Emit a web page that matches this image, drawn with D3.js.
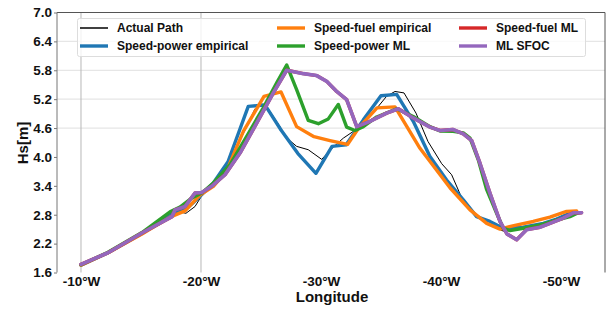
<!DOCTYPE html>
<html>
<head>
<meta charset="utf-8">
<script src="https://cdn.jsdelivr.net/npm/d3@7"></script>
<style>
  body { margin: 0; background: #fff; }
  svg { display: block; font-family: "Liberation Sans", Arial, sans-serif; font-weight: bold; }
</style>
</head>
<body>
<svg id="chart" width="609" height="313"></svg>
<script>
// [degrees west, Hs in m]
const actualPath = [
  [10.0, 1.75], [12.25, 2.01], [15.08, 2.40], [17.58, 2.89], [18.75, 2.83], [19.5, 2.97],
  [20.0, 3.17], [21.03, 3.46], [22.28, 3.87], [23.81, 4.63], [24.5, 5.0], [25.08, 5.10],
  [25.5, 5.04], [26.58, 4.63], [27.17, 4.39], [27.97, 4.22], [28.94, 4.15], [30.06, 3.95],
  [30.92, 4.18], [31.86, 4.39], [32.69, 4.53], [33.92, 4.79], [35.47, 5.26], [36.17, 5.36],
  [36.92, 5.33], [37.92, 4.91], [38.92, 4.32], [40.06, 3.86], [40.89, 3.63], [41.92, 3.04],
  [42.83, 2.78], [44.08, 2.59], [45.19, 2.46], [46.86, 2.55], [48.53, 2.62], [49.5, 2.71],
  [50.5, 2.82]
];
const speedPowerEmp = [
  [10.0, 1.75], [12.25, 2.01], [15.08, 2.41], [17.42, 2.80], [18.67, 2.90], [19.92, 3.18],
  [21.03, 3.46], [22.25, 3.90], [23.94, 5.05], [25.33, 5.08], [26.67, 4.56], [28.08, 4.07],
  [29.58, 3.66], [30.92, 4.22], [32.08, 4.25], [33.53, 4.77], [35.0, 5.27], [36.31, 5.30],
  [37.69, 4.74], [39.08, 4.01], [40.47, 3.52], [41.86, 3.11], [42.97, 2.76], [44.08, 2.66],
  [45.19, 2.52], [46.86, 2.54], [48.53, 2.62], [49.64, 2.71], [50.75, 2.83], [51.58, 2.84]
];
const speedFuelEmp = [
  [10.0, 1.75], [12.25, 2.01], [15.08, 2.40], [17.42, 2.75], [18.67, 2.88], [19.92, 3.21],
  [21.03, 3.39], [22.14, 3.71], [23.53, 4.53], [25.25, 5.26], [26.67, 5.35], [27.97, 4.63],
  [29.42, 4.42], [30.75, 4.34], [32.21, 4.26], [33.17, 4.61], [34.67, 5.02], [36.17, 5.04],
  [38.25, 4.18], [40.75, 3.36], [42.42, 2.90], [43.81, 2.62], [44.92, 2.50], [46.17, 2.58],
  [47.69, 2.66], [49.08, 2.75], [50.47, 2.87], [51.31, 2.88]
];
const speedPowerML = [
  [10.0, 1.76], [12.25, 2.02], [15.08, 2.43], [17.42, 2.86], [18.25, 2.96], [19.25, 3.15],
  [20.06, 3.25], [21.03, 3.46], [22.42, 3.84], [23.81, 4.43], [25.19, 5.02], [26.31, 5.54],
  [27.14, 5.91], [27.97, 5.40], [28.94, 4.76], [29.78, 4.69], [30.61, 4.79], [31.44, 5.09],
  [32.14, 4.62], [32.83, 4.55], [33.53, 4.63], [34.64, 4.83], [36.31, 5.0], [37.69, 4.84],
  [39.08, 4.63], [39.92, 4.54], [41.0, 4.53], [41.86, 4.50], [42.42, 4.39], [43.11, 3.94],
  [43.81, 3.32], [44.64, 2.83], [45.19, 2.52], [45.75, 2.47], [46.86, 2.52], [48.25, 2.59],
  [49.64, 2.69], [50.75, 2.76], [51.44, 2.84]
];
const speedFuelML = [
  [10.0, 1.77], [12.25, 2.01], [15.08, 2.42], [17.58, 2.76], [17.83, 2.90], [18.67, 2.97],
  [19.5, 3.25], [20.06, 3.26], [20.89, 3.39], [22.0, 3.63], [23.25, 4.08], [24.64, 4.70],
  [26.03, 5.33], [27.14, 5.80], [28.53, 5.73], [29.64, 5.69], [30.48, 5.57], [31.31, 5.36],
  [32.14, 5.19], [32.98, 4.63], [34.08, 4.74], [35.47, 4.91], [36.44, 5.0], [37.69, 4.81],
  [39.08, 4.62], [39.92, 4.55], [41.0, 4.57], [41.86, 4.48], [42.56, 4.34], [43.25, 3.87],
  [44.08, 3.25], [44.92, 2.66], [45.5, 2.40], [46.31, 2.28], [47.14, 2.49], [48.25, 2.54],
  [49.08, 2.62], [50.19, 2.73], [51.03, 2.84], [51.72, 2.84]
];
const mlSfoc = [
  [10.0, 1.77], [12.25, 2.01], [15.08, 2.42], [17.58, 2.76], [17.83, 2.90], [18.67, 2.97],
  [19.5, 3.25], [20.06, 3.26], [20.89, 3.39], [22.0, 3.63], [23.25, 4.08], [24.64, 4.70],
  [26.03, 5.33], [27.14, 5.80], [28.53, 5.73], [29.64, 5.69], [30.48, 5.57], [31.31, 5.36],
  [32.14, 5.19], [32.98, 4.63], [34.08, 4.74], [35.47, 4.91], [36.44, 5.0], [37.69, 4.81],
  [39.08, 4.62], [39.92, 4.55], [41.0, 4.57], [41.86, 4.48], [42.56, 4.34], [43.25, 3.87],
  [44.08, 3.25], [44.92, 2.66], [45.5, 2.40], [46.31, 2.28], [47.14, 2.49], [48.25, 2.54],
  [49.08, 2.62], [50.19, 2.73], [51.03, 2.84], [51.72, 2.84]
];

const seriesNames = ["Actual Path", "Speed-power empirical", "Speed-fuel empirical",
                     "Speed-power ML", "Speed-fuel ML", "ML SFOC"];
const seriesData = [actualPath, speedPowerEmp, speedFuelEmp, speedPowerML, speedFuelML, mlSfoc];
const seriesColors = ["#000000", "#1f77b4", "#ff7f0e", "#2ca02c", "#d62728", "#9467bd"];
const seriesWidths = [1, 3.4, 3.4, 3.4, 3.4, 3.6];

const xTicks = [10, 20, 30, 40, 50];
const yTicks = [1.6, 2.2, 2.8, 3.4, 4.0, 4.6, 5.2, 5.8, 6.4, 7.0];
const yGridTicks = [4.6, 5.2, 5.8, 6.4];
const xGridTicks = [10, 20];

const svg = d3.select("#chart");
const plotL = 57, plotR = 605, plotT = 12.5, plotB = 272.5;

const x = d3.scaleLinear().domain([8, 53.67]).range([plotL, plotR]);
const y = d3.scaleLinear().domain([1.6, 7.0]).range([plotB, plotT]);

// grid
svg.append("g").selectAll("line").data(yGridTicks).enter().append("line")
    .attr("x1", plotL).attr("x2", plotR)
    .attr("y1", d => y(d)).attr("y2", d => y(d))
    .attr("stroke", "#e6e6e6").attr("stroke-width", 1.2);
svg.append("g").selectAll("line").data(xGridTicks).enter().append("line")
    .attr("x1", d => x(d)).attr("x2", d => x(d))
    .attr("y1", plotT).attr("y2", plotB)
    .attr("stroke", "#b8b8b8").attr("stroke-width", 1);

// spines
svg.append("line").attr("x1", plotL).attr("x2", plotR).attr("y1", plotT).attr("y2", plotT)
    .attr("stroke", "#555").attr("stroke-width", 1);
svg.append("line").attr("x1", plotL).attr("x2", plotL).attr("y1", plotT).attr("y2", plotB)
    .attr("stroke", "#777").attr("stroke-width", 1);
svg.append("line").attr("x1", plotR).attr("x2", plotR).attr("y1", plotT).attr("y2", plotB)
    .attr("stroke", "#555").attr("stroke-width", 1);

// axes
const yAxis = d3.axisLeft(y).tickValues(yTicks).tickFormat(d3.format(".1f")).tickSize(3).tickPadding(2);
const gy = svg.append("g").attr("transform", `translate(${plotL},0)`).call(yAxis);
gy.select(".domain").remove();
gy.selectAll(".tick line").attr("stroke", "#777");
gy.selectAll("text").attr("font-size", 13.5).attr("fill", "#111").attr("font-weight", "bold");

const xAxis = d3.axisBottom(x).tickValues(xTicks).tickFormat(d => `-${d}°W`).tickSize(0).tickPadding(4);
const gx = svg.append("g").attr("transform", `translate(0,${plotB})`).call(xAxis);
gx.select(".domain").remove();
gx.selectAll("text").attr("font-size", 13.5).attr("fill", "#111").attr("font-weight", "bold");

// labels
svg.append("text").attr("x", 332).attr("y", 302).attr("text-anchor", "middle")
    .attr("font-size", 15).attr("fill", "#111").text("Longitude");
svg.append("text").attr("transform", "translate(28,143) rotate(-90)").attr("text-anchor", "middle")
    .attr("font-size", 15).attr("fill", "#111").text("Hs[m]");

// lines
const line = d3.line().x(d => x(d[0])).y(d => y(d[1]));
svg.append("g").selectAll("path").data(seriesData).enter().append("path")
    .attr("d", line)
    .attr("fill", "none")
    .attr("stroke", (d, i) => seriesColors[i])
    .attr("stroke-width", (d, i) => seriesWidths[i])
    .attr("stroke-linejoin", "round")
    .attr("stroke-linecap", "round");

// legend
const legend = svg.append("g");
legend.append("rect").attr("x", 77.5).attr("y", 18.5).attr("width", 508).attr("height", 38).attr("rx", 2)
    .attr("fill", "#fff").attr("fill-opacity", 0.8).attr("stroke", "#ddd");
const colX = [80, 277, 459];
const rowY = [28, 46];
seriesNames.forEach((name, i) => {
    const cx = colX[Math.floor(i / 2)], cy = rowY[i % 2];
    legend.append("line").attr("x1", cx).attr("x2", cx + 28).attr("y1", cy).attr("y2", cy)
        .attr("stroke", seriesColors[i]).attr("stroke-width", i === 0 ? 1.5 : 3.4);
    legend.append("text").attr("x", cx + 37).attr("y", cy).attr("dy", "0.35em")
        .attr("font-size", 12).attr("fill", "#111").text(name);
});
</script>
</body>
</html>
